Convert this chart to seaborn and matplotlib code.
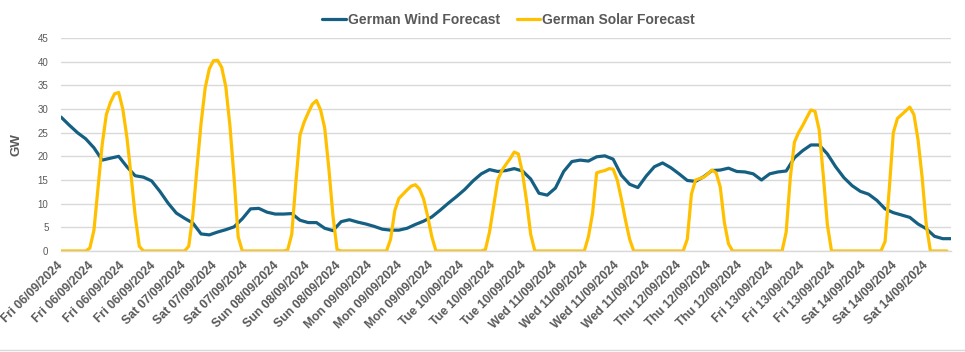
import numpy as np
import pandas as pd
import matplotlib
matplotlib.use('Agg')
import matplotlib.pyplot as plt
from matplotlib.lines import Line2D
import seaborn as sns

# Forecast window starts Fri 06/09/2024 00:00, data runs to Sat 14/09 end
start = pd.Timestamp('2024-09-06 00:00')

# German wind forecast (GW), read every 2 hours
wind_gw = [28.3, 26.6, 25.0, 23.7, 21.8, 19.2, 19.6, 20.0, 17.8, 15.9, 15.6, 14.8,
           12.6, 10.1, 8.0, 6.9, 5.9, 3.6, 3.4, 4.0, 4.5, 5.1, 6.8, 8.9,
           9.0, 8.2, 7.8, 7.8, 7.9, 6.5, 6.0, 6.0, 4.8, 4.3, 6.2, 6.6,
           6.1, 5.7, 5.2, 4.6, 4.4, 4.4, 4.8, 5.6, 6.3, 7.2, 8.6, 10.1,
           11.5, 13.0, 14.8, 16.3, 17.2, 16.8, 17.0, 17.4, 16.9, 15.2, 12.2, 11.8,
           13.3, 16.8, 18.9, 19.2, 19.0, 19.9, 20.1, 19.4, 16.0, 14.1, 13.4, 15.8,
           17.8, 18.6, 17.6, 16.3, 14.9, 14.7, 15.7, 17.0, 17.1, 17.5, 16.8, 16.7,
           16.3, 15.0, 16.3, 16.7, 16.9, 19.7, 21.2, 22.4, 22.4, 20.5, 17.8, 15.5,
           13.8, 12.6, 12.0, 10.7, 8.9, 8.1, 7.6, 7.1, 5.7, 4.7, 3.1, 2.6, 2.6]

# German solar forecast (GW), hourly, one list per day (00:00 .. 23:00)
solar_fri06 = [0, 0, 0, 0, 0, 0, 0, 0.6, 4.4, 13.5, 22.5, 28.8, 31.4, 33.2, 33.5, 30.0,
               24.0, 16.0, 7.5, 1.0, 0, 0, 0, 0]
solar_sat07 = [0, 0, 0, 0, 0, 0, 0, 1.0, 7.5, 17.5, 27.0, 34.5, 38.5, 40.2, 40.3, 38.8,
               34.7, 26.5, 15.5, 3.0, 0, 0, 0, 0]
solar_sun08 = [0, 0, 0, 0, 0, 0, 0, 0.2, 3.5, 14.5, 24.5, 27.2, 29.2, 31.0, 31.8, 29.8,
               26.0, 17.5, 7.5, 0.3, 0, 0, 0, 0]
solar_mon09 = [0, 0, 0, 0, 0, 0, 0, 0, 2.5, 8.5, 11.1, 12.0, 12.9, 13.7, 14.0, 13.1,
               11.0, 7.3, 3.0, 0, 0, 0, 0, 0]
solar_tue10 = [0, 0, 0, 0, 0, 0, 0, 0.3, 4.0, 9.5, 15.0, 17.0, 18.3, 19.5, 20.9, 20.5,
               16.5, 10.5, 3.5, 0, 0, 0, 0, 0]
solar_wed11 = [0, 0, 0, 0, 0, 0, 0, 0, 3.0, 7.9, 16.5, 16.8, 17.0, 17.4, 17.3, 15.0,
               11.0, 6.5, 2.5, 0, 0, 0, 0, 0]
solar_thu12 = [0, 0, 0, 0, 0, 0, 0, 0, 2.5, 12.0, 15.0, 15.3, 15.6, 16.3, 17.1, 16.5,
               13.5, 6.0, 1.5, 0, 0, 0, 0, 0]
solar_fri13 = [0, 0, 0, 0, 0, 0, 0, 0, 4.0, 15.5, 23.0, 25.0, 26.5, 28.2, 29.8, 29.5,
               25.6, 16.0, 5.5, 0, 0, 0, 0, 0]
solar_sat14 = [0, 0, 0, 0, 0, 0, 0, 0, 2.0, 12.9, 25.0, 28.0, 28.8, 29.6, 30.4, 28.8,
               23.5, 15.5, 5.5, 0, 0, 0, 0, 0]

solar_gw = (solar_fri06 + solar_sat07 + solar_sun08 + solar_mon09 + solar_tue10
            + solar_wed11 + solar_thu12 + solar_fri13 + solar_sat14)

# category labels every 7.5 hours like the Excel axis
tick_hours = np.arange(0, 211, 7.5)
tick_labels = [(start + pd.Timedelta(hours=h)).strftime('%a %d/%m/%Y') for h in tick_hours]

wind = pd.DataFrame({'hour': np.arange(len(wind_gw)) * 2.0, 'GW': wind_gw})
solar = pd.DataFrame({'hour': np.arange(len(solar_gw)) * 1.0, 'GW': solar_gw})

sns.set_theme(style='white')
plt.rcParams['font.family'] = ['Liberation Sans', 'DejaVu Sans']

fig = plt.figure(figsize=(9.65, 3.52), dpi=100)
ax = fig.add_axes([0.0632, 0.287, 0.9223, 0.605])

line_kw = dict(lw=2.3, solid_joinstyle='round', solid_capstyle='round')
sns.lineplot(data=wind, x='hour', y='GW', ax=ax, color='#156082',
             label='German Wind Forecast', **line_kw)
sns.lineplot(data=solar, x='hour', y='GW', ax=ax, color='#FFC000',
             label='German Solar Forecast', **line_kw)

ax.set_xlim(0, 216)
ax.set_ylim(0, 45)
ax.set_yticks(range(0, 46, 5))
ax.set_xticks(tick_hours)
ax.set_xticklabels(tick_labels, rotation=45, ha='right', va='center',
                   rotation_mode='anchor', fontsize=8.8, fontweight='bold',
                   color='#595959')
ax.tick_params(axis='x', length=0, pad=9)
ax.tick_params(axis='y', length=0, pad=9, labelsize=7, labelcolor='#595959')
ax.grid(axis='y', color='#D9D9D9', lw=1)
for s in ['top', 'right', 'left']:
    ax.spines[s].set_visible(False)
ax.spines['bottom'].set_color('#D9D9D9')
ax.spines['bottom'].set_linewidth(1)
ax.set_xlabel('')
ax.set_ylabel('GW', fontsize=9.5, fontweight='bold', color='#595959', labelpad=11)

ax.get_legend().remove()
handles, labels = ax.get_legend_handles_labels()
fig.legend(handles, labels, loc='center', bbox_to_anchor=(0.527, 0.943), ncol=2,
           frameon=False, handlelength=1.7, handletextpad=0.15, columnspacing=1.2,
           prop={'weight': 'bold', 'size': 10}, labelcolor='#595959')

fig.add_artist(Line2D([0, 1], [0.005, 0.005], transform=fig.transFigure,
                      color='#D9D9D9', lw=1))

fig.savefig('out.png', dpi=100)
